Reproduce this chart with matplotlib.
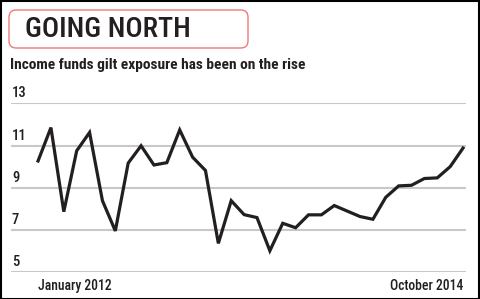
import matplotlib
matplotlib.use("Agg")
import matplotlib.pyplot as plt
from matplotlib.patches import FancyBboxPatch, Rectangle

FONT = ['Roboto Condensed', 'DejaVu Sans']
plt.rcParams['font.family'] = FONT

title = "GOING NORTH"
subtitle = "Income funds gilt exposure has been on the rise"
values = [10.27, 11.85, 7.87, 10.75, 11.62, 8.39, 6.96, 10.17, 10.99, 10.08,
          10.19, 11.74, 10.45, 9.82, 6.37, 8.39, 7.73, 7.59, 6.02, 7.32,
          7.11, 7.72, 7.72, 8.16, 7.90, 7.64, 7.51, 8.55, 9.09, 9.12,
          9.44, 9.47, 10.00, 10.88]
y_ticks = [5, 7, 9, 11, 13]
x_labels = ["January 2012", "October 2014"]

W, H = 480, 299
TXT = '#231f20'
fig = plt.figure(figsize=(W / 100, H / 100), dpi=100)
fig.patch.set_facecolor('white')

# outer black frame
fig.patches.append(Rectangle((0.5 / W, 0.5 / H), 1 - 1.5 / W, 1 - 1.5 / H,
                             transform=fig.transFigure, fill=False,
                             edgecolor='black', linewidth=1.5))

# title box
fig.patches.append(FancyBboxPatch((9 / W, (H - 48) / H), 239 / W, 38 / H,
                                  boxstyle="round,pad=0,rounding_size=0.015",
                                  transform=fig.transFigure, fill=False,
                                  edgecolor='#f07878', linewidth=1.0,
                                  mutation_aspect=W / H))
fig.text(25 / W, (H - 29.5) / H, title, fontsize=20.5, fontweight='medium',
         color=TXT, va='center', ha='left')
fig.text(10 / W, (H - 64.5) / H, subtitle, fontsize=11.1, fontweight='bold',
         color=TXT, va='center', ha='left')

left, right = 11 / W, 466 / W
bottom, top = (H - 272.3) / H, (H - 103.3) / H
ax = fig.add_axes([left, bottom, right - left, top - bottom])
n = len(values)
x = list(range(n))
ax.plot(x, values, color=TXT, linewidth=2.3, solid_joinstyle='miter',
        zorder=3)
ax.set_xlim(-2.1, 33.23)
ax.set_ylim(5, 13)
for s in ax.spines.values():
    s.set_visible(False)
ax.set_yticks(y_ticks)
ax.yaxis.grid(True, color='#c8c8c8', linewidth=1.5)
ax.set_axisbelow(True)
ax.tick_params(axis='y', length=0, labelleft=False)
for v in y_ticks:
    ax.text(0.002, v + 0.47, str(v), transform=ax.get_yaxis_transform(),
            fontsize=10.5, fontweight='medium', color=TXT,
            ha='left', va='center')
ax.set_xticks([0, n - 1])
ax.set_xticklabels(x_labels, fontsize=9.8, fontweight='medium', color=TXT)
ax.tick_params(axis='x', length=0, pad=4.5)
lbls = ax.get_xticklabels()
lbls[0].set_ha('left')
lbls[1].set_ha('right')

fig.savefig('out.png', dpi=100)
